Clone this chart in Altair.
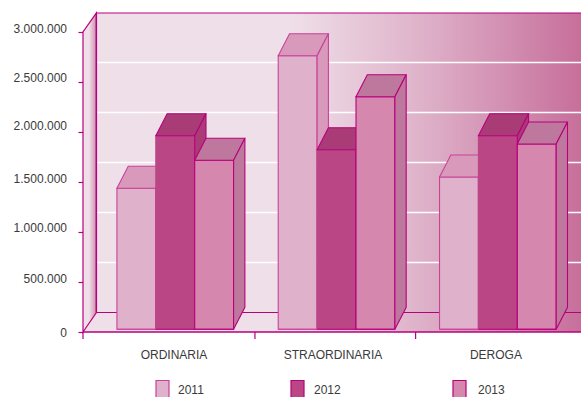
import altair as alt
import pandas as pd

# Fund totals per management type and year
categories = ["ORDINARIA", "STRAORDINARIA", "DEROGA"]
years = ["2011", "2012", "2013"]
values_2011 = [1410000, 2736000, 1523000]
values_2012 = [1936000, 1796000, 1936000]
values_2013 = [1690000, 2326000, 1853000]
y_ticks = [0, 500000, 1000000, 1500000, 2000000, 2500000, 3000000]
y_tick_labels = ["0", "500.000", "1.000.000", "1.500.000", "2.000.000", "2.500.000", "3.000.000"]
y_label_pos = [-10000, 530000, 1040000, 1530000, 2063000, 2543000, 3033000]
x_ticks = [0.0, 1.066, 2.062]
x_label_pos = [0.564, 1.55, 2.56]

series = dict(zip(years, [values_2011, values_2012, values_2013]))

FONT = "Liberation Sans"
TEXT = "#3a3a3a"
EDGE = "#b8007c"
FACES = {
    "2011": {"front": "#e0b1cb", "top": "#d999bb", "side": "#d999bb", "edge": "#c9429a", "front_edge": "#c9429a"},
    "2012": {"front": "#bb4685", "top": "#a93b77", "side": "#a93b77", "edge": EDGE, "front_edge": "#bb4685"},
    "2013": {"front": "#d687ae", "top": "#bf789d", "side": "#bf789d", "edge": EDGE, "front_edge": EDGE},
}

# Scale layout, in group widths along x and value units along y
X_MAX = 3.0874
Y_MAX = 3190000
GROUP_CENTER = 0.572
BAR_W = 0.2411
BAR_DX = 0.07
BAR_DY = 220000
BAR_LIFT = 27000
WALL_DX = 0.083
WALL_DY = 195000

x_scale = alt.Scale(domain=[0, X_MAX], nice=False, zero=False)
y_scale = alt.Scale(domain=[0, Y_MAX], nice=False, zero=False)
y_axis = alt.Axis(
    values=y_ticks, domain=False, grid=False, labels=False, title=None,
    tickColor=EDGE, tickSize=5, tickWidth=1.2,
)
X = alt.X("x:Q", scale=x_scale, axis=None)
Y = alt.Y("y:Q", scale=y_scale, axis=y_axis, stack=None)
X2 = alt.X2("x2:Q")
Y2 = alt.Y2("y2:Q")

wall_gradient = alt.Gradient(
    gradient="linear", x1=0, x2=1, y1=0, y2=0,
    stops=[
        alt.GradientStop(color="#efdfe8", offset=0.0),
        alt.GradientStop(color="#efdfe8", offset=0.40),
        alt.GradientStop(color="#dfb4cb", offset=0.66),
        alt.GradientStop(color="#c76f9b", offset=1.0),
    ],
)
side_gradient = alt.Gradient(
    gradient="linear", x1=0, x2=1, y1=0, y2=0,
    stops=[
        alt.GradientStop(color="#efdfe8", offset=0.0),
        alt.GradientStop(color="#efdfe8", offset=0.45),
        alt.GradientStop(color="#cf8db0", offset=1.0),
    ],
)

# Back wall, floor and left wall of the box
back_wall = alt.Chart(pd.DataFrame([{"x": WALL_DX, "x2": X_MAX, "y": WALL_DY, "y2": Y_MAX}])).mark_rect(
    color=wall_gradient, stroke=None
).encode(x=X, x2=X2, y=Y, y2=Y2)
floor = alt.Chart(pd.DataFrame([
    {"x": 0, "y": 0, "y2": 0},
    {"x": WALL_DX, "y": 0, "y2": WALL_DY},
    {"x": X_MAX, "y": 0, "y2": WALL_DY},
])).mark_area(color=wall_gradient).encode(x=X, y=Y, y2=Y2)
left_wall = alt.Chart(pd.DataFrame([
    {"x": 0, "y": 0, "y2": 3000000},
    {"x": WALL_DX, "y": WALL_DY, "y2": Y_MAX},
])).mark_area(color=side_gradient, stroke=EDGE, strokeWidth=1.2).encode(x=X, y=Y, y2=Y2)

grid = alt.Chart(pd.DataFrame({"v": y_ticks[1:-1]})).mark_rule(color="white", strokeWidth=1.6).encode(
    x=alt.value(WALL_DX / X_MAX * 498), x2=alt.value(498),
    y=alt.Y("y:Q", scale=y_scale, axis=y_axis),
).transform_calculate(y=f"datum.v + {WALL_DY}")

box_edges = alt.Chart(pd.DataFrame([
    {"x": WALL_DX, "x2": X_MAX, "y": WALL_DY},
    {"x": WALL_DX, "x2": X_MAX, "y": Y_MAX},
])).mark_rule(color=EDGE, strokeWidth=1.2).encode(x=X, x2=X2, y=Y)
front_edge = alt.Chart(pd.DataFrame([{"x": 0, "x2": X_MAX, "y": 0}])).mark_rule(color=EDGE, strokeWidth=1.6).encode(x=X, x2=X2, y=Y)
back_edge = alt.Chart(pd.DataFrame([{"x": WALL_DX, "y": WALL_DY, "y2": Y_MAX}])).mark_rule(color=EDGE, strokeWidth=1.4).encode(x=X, y=Y, y2=Y2)

x_axis = alt.Chart(pd.DataFrame({"x": x_ticks})).mark_rule(color=EDGE, strokeWidth=1.2).encode(
    x=X, y=alt.value(319), y2=alt.value(326),
)
value_labels = alt.Chart(pd.DataFrame({"y": y_label_pos, "label": y_tick_labels})).mark_text(
    font=FONT, fontSize=12, color=TEXT, align="right", baseline="middle"
).encode(x=alt.value(-16), y=Y, text="label:N")
category_labels = alt.Chart(pd.DataFrame({"x": x_label_pos, "label": categories})).mark_text(
    font=FONT, fontSize=12, color=TEXT, align="center", baseline="middle"
).encode(x=X, y=alt.value(342), text="label:N")


def bar_layers(year, index):
    """Front, top and side faces of one year's bars, built from its values."""
    front, top, side, base = [], [], [], []
    for g, value in enumerate(series[year]):
        x0 = GROUP_CENTER + g + (index - 1.5) * BAR_W
        x1 = x0 + BAR_W
        low = BAR_LIFT
        high = BAR_LIFT + value
        front.append({"x": x0, "x2": x1, "y": low, "y2": high})
        base.append({"x": x0, "x2": x1, "y": low})
        for x, y, y2 in [(x0, high, high), (x0 + BAR_DX, high, high + BAR_DY),
                         (x1, high, high + BAR_DY), (x1 + BAR_DX, high + BAR_DY, high + BAR_DY)]:
            top.append({"g": g, "x": x, "y": y, "y2": y2})
        for x, y, y2 in [(x1, low, high), (x1 + BAR_DX, low + BAR_DY, high + BAR_DY)]:
            side.append({"g": g, "x": x, "y": y, "y2": y2})
    face = FACES[year]
    common = dict(stroke=face["edge"], strokeWidth=1.1)
    return [
        alt.Chart(pd.DataFrame(front)).mark_rect(color=face["front"], stroke=face["front_edge"], strokeWidth=1.1).encode(x=X, x2=X2, y=Y, y2=Y2),
        alt.Chart(pd.DataFrame(base)).mark_rule(color=face["edge"], strokeWidth=1.1).encode(x=X, x2=X2, y=Y),
        alt.Chart(pd.DataFrame(top)).mark_area(color=face["top"], **common).encode(x=X, y=Y, y2=Y2, detail="g:N"),
        alt.Chart(pd.DataFrame(side)).mark_area(color=face["side"], **common).encode(x=X, y=Y, y2=Y2, detail="g:N"),
    ]


bars = [layer for i, year in enumerate(years) for layer in bar_layers(year, i)]

# Legend keys and labels, laid out by hand along the bottom edge
legend_rows = pd.DataFrame({"year": years, "key": [73, 208, 370], "text": [95, 231, 395]})
legend_keys = alt.Chart(legend_rows).mark_rect(strokeWidth=1.2).encode(
    x=alt.X("key:Q", scale=None, axis=None),
    x2=alt.X2("key2:Q"),
    y=alt.value(367.5), y2=alt.value(386),
    color=alt.Color("year:N", scale=alt.Scale(domain=years, range=[FACES[y]["front"] for y in years]), legend=None),
    stroke=alt.Stroke("year:N", scale=alt.Scale(domain=years, range=[FACES[y]["edge"] for y in years]), legend=None),
).transform_calculate(key2="datum.key + 13")
legend_text = alt.Chart(legend_rows).mark_text(font=FONT, fontSize=12, color=TEXT, align="left", baseline="middle").encode(
    x=alt.X("text:Q", scale=None, axis=None), y=alt.value(377), text="year:N",
)

chart = alt.layer(
    back_wall, floor, left_wall, grid, back_edge, box_edges, front_edge, x_axis,
    *bars, value_labels, category_labels, legend_keys, legend_text,
).properties(
    width=498, height=319,
    padding={"left": 83, "top": 13, "right": 0, "bottom": 65},
    autosize=alt.AutoSizeParams(type="none"),
    background="white",
).configure_view(stroke=None).configure_axis(tickColor=EDGE)

chart.save("out.html", embed_options={"renderer": "svg", "actions": False})
